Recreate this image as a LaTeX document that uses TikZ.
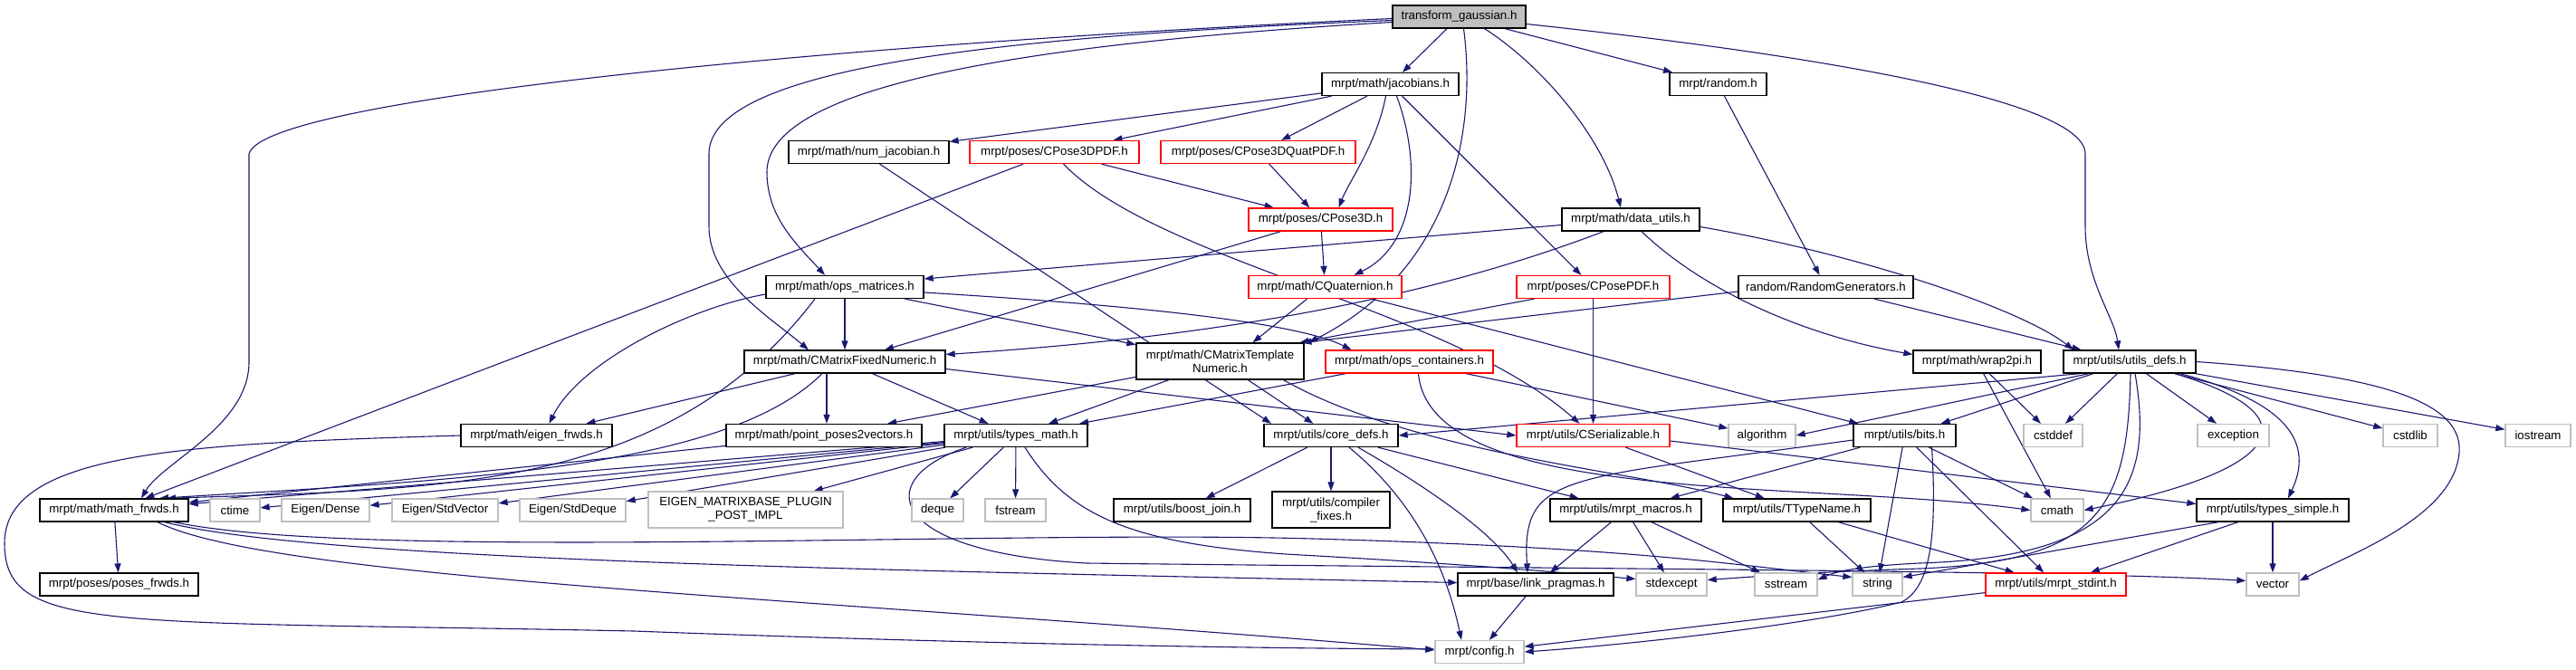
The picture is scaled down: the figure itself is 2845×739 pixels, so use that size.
\documentclass[tikz,border=0pt]{standalone}
\usepackage{fontspec}
\setmainfont{Liberation Sans}
\usetikzlibrary{arrows.meta}
\pgfdeclarelayer{background}
\pgfdeclarelayer{foreground}
\pgfsetlayers{background,main,foreground}
\definecolor{edgeblue}{HTML}{191970}
\definecolor{sysgray}{HTML}{BFBFBF}
\tikzset{hdr/.style={rectangle,draw=black,fill=white,line width=1.3pt,inner sep=0pt,
minimum height=25pt, font=\fontsize{13.3}{15}\selectfont},
redhdr/.style={hdr,draw=red},
syshdr/.style={hdr,draw=sysgray},
roothdr/.style={hdr,fill=sysgray},
inc/.style={color=edgeblue, line width=1.1pt, ->},
>={Triangle[length=10pt,width=7pt]}}

\begin{document}
\begin{tikzpicture}[x=1pt,y=-1pt]
  \useasboundingbox (0,0) rectangle (2845,739);
  \node[roothdr, minimum width=147] (tg) at (1611.5,18.5) {transform\_gaussian.h};
  \node[hdr, minimum width=151] (jac) at (1535.5,93) {mrpt/math/jacobians.h};
  \node[hdr, minimum width=107] (rnd) at (1897.5,93) {mrpt/random.h};
  \node[hdr, minimum width=177] (numjac) at (959.5,168) {mrpt/math/num\_jacobian.h};
  \node[redhdr, minimum width=187] (p3dpdf) at (1164.5,168) {mrpt/poses/CPose3DPDF.h};
  \node[redhdr, minimum width=215] (p3dq) at (1389.5,168) {mrpt/poses/CPose3DQuatPDF.h};
  \node[redhdr, minimum width=159] (p3d) at (1458.5,242.5) {mrpt/poses/CPose3D.h};
  \node[hdr, minimum width=152] (dutil) at (1801,242.5) {mrpt/math/data\_utils.h};
  \node[hdr, minimum width=174] (opsm) at (933,317) {mrpt/math/ops\_matrices.h};
  \node[redhdr, minimum width=169] (cquat) at (1463.5,317) {mrpt/math/CQuaternion.h};
  \node[redhdr, minimum width=169] (pdf) at (1759.5,317) {mrpt/poses/CPosePDF.h};
  \node[hdr, minimum width=193] (rgen) at (2016.5,317) {random/RandomGenerators.h};
  \node[hdr, minimum width=222] (cmf) at (933,399.5) {mrpt/math/CMatrixFixedNumeric.h};
  \node[hdr, minimum width=185, minimum height=40, align=center] (cmt) at (1347.5,399) {mrpt/math/CMatrixTemplate\\Numeric.h};
  \node[redhdr, minimum width=185] (opsc) at (1556.5,399.5) {mrpt/math/ops\_containers.h};
  \node[hdr, minimum width=141] (wrap) at (2183.5,399.5) {mrpt/math/wrap2pi.h};
  \node[hdr, minimum width=146] (udefs) at (2352,399.5) {mrpt/utils/utils\_defs.h};
  \node[hdr, minimum width=167] (eigf) at (592.5,481) {mrpt/math/eigen\_frwds.h};
  \node[hdr, minimum width=216] (pp2v) at (910,481) {mrpt/math/point\_poses2vectors.h};
  \node[hdr, minimum width=158] (tmath) at (1122,481) {mrpt/utils/types\_math.h};
  \node[hdr, minimum width=148] (cdefs) at (1470,481) {mrpt/utils/core\_defs.h};
  \node[redhdr, minimum width=169] (cser) at (1759.5,481) {mrpt/utils/CSerializable.h};
  \node[syshdr, minimum width=74] (algo) at (1946,481) {algorithm};
  \node[hdr, minimum width=113] (bits) at (2103.5,481) {mrpt/utils/bits.h};
  \node[syshdr, minimum width=65] (cstddef) at (2267.5,481) {cstddef};
  \node[syshdr, minimum width=79] (exception) at (2466.5,481) {exception};
  \node[syshdr, minimum width=60] (cstdlib) at (2662,481) {cstdlib};
  \node[syshdr, minimum width=72] (iostream) at (2803,481) {iostream};
  \node[hdr, minimum width=164] (mfrwds) at (126,563.5) {mrpt/math/math\_frwds.h};
  \node[syshdr, minimum width=55] (ctime) at (259.5,563.5) {ctime};
  \node[syshdr, minimum width=97] (edense) at (359.5,563.5) {Eigen/Dense};
  \node[syshdr, minimum width=117] (esv) at (491.5,563.5) {Eigen/StdVector};
  \node[syshdr, minimum width=117] (esd) at (632.5,563.5) {Eigen/StdDeque};
  \node[syshdr, minimum width=215, minimum height=40, align=center] (eplug) at (823.5,563) {EIGEN\_MATRIXBASE\_PLUGIN\\\_POST\_IMPL};
  \node[syshdr, minimum width=57] (deque) at (1035.5,563.5) {deque};
  \node[syshdr, minimum width=67] (fstream) at (1121.5,563.5) {fstream};
  \node[hdr, minimum width=151] (bjoin) at (1305.5,563.5) {mrpt/utils/boost\_join.h};
  \node[hdr, minimum width=130, minimum height=40, align=center] (cfix) at (1470,563) {mrpt/utils/compiler\\\_fixes.h};
  \node[hdr, minimum width=167] (macros) at (1795.5,563.5) {mrpt/utils/mrpt\_macros.h};
  \node[hdr, minimum width=163] (ttn) at (1984.5,563.5) {mrpt/utils/TTypeName.h};
  \node[syshdr, minimum width=58] (cmath) at (2272,563.5) {cmath};
  \node[hdr, minimum width=168] (tsimple) at (2510,563.5) {mrpt/utils/types\_simple.h};
  \node[hdr, minimum width=175] (pfrwds) at (131.5,645.5) {mrpt/poses/poses\_frwds.h};
  \node[hdr, minimum width=172] (lprag) at (1696,645.5) {mrpt/base/link\_pragmas.h};
  \node[syshdr, minimum width=78] (stdexcept) at (1846,645.5) {stdexcept};
  \node[syshdr, minimum width=69] (sstream) at (1972.5,645.5) {sstream};
  \node[syshdr, minimum width=55] (string) at (2073.5,645.5) {string};
  \node[redhdr, minimum width=155] (stdint) at (2270.5,645.5) {mrpt/utils/mrpt\_stdint.h};
  \node[syshdr, minimum width=58] (vector) at (2510,645.5) {vector};
  \node[syshdr, minimum width=98] (config) at (1634,720) {mrpt/config.h};

  \begin{pgfonlayer}{background}
  \draw[inc] (tg) -- (jac);
  \draw[inc] (tg) -- (rnd);
  \draw[inc] ([yshift=-2]tg.west) .. controls (900,50) and (290,110) .. (275,170) -- (275,400) .. controls (275,470) and (180,510) .. ([xshift=30]mfrwds.north);
  \draw[inc] ([yshift=-4]tg.west) .. controls (1100,40) and (783,75) .. (783,170) -- (783,250) .. controls (783,310) and (850,350) .. ([xshift=-40]cmf.north);
  \draw[inc] ([yshift=-6]tg.west) .. controls (1100,50) and (847,100) .. (847,190) .. controls (847,240) and (880,270) .. ([xshift=-22]opsm.north);
  \draw[inc] ([xshift=5]tg.south) .. controls (1632,150) and (1600,300) .. ([xshift=98]cmt.north);
  \draw[inc] ([xshift=28]tg.south) .. controls (1700,70) and (1770,150) .. ([xshift=-11]dutil.north);
  \draw[inc] ([yshift=-8]tg.east) .. controls (2000,60) and (2303,110) .. (2303,170) -- (2303,250) .. controls (2303,310) and (2335,350) .. ([xshift=-12]udefs.north);
  \draw[inc] (jac) -- (numjac);
  \draw[inc] (jac) -- (p3dpdf);
  \draw[inc] (jac) -- (p3dq);
  \draw[inc] ([xshift=-5]jac.south) .. controls (1520,160) and (1490,200) .. ([xshift=20]p3d.north);
  \draw[inc] ([xshift=7]jac.south) .. controls (1570,180) and (1565,270) .. ([xshift=32]cquat.north);
  \draw[inc] (jac) -- (pdf);
  \draw[inc] (rnd) -- (rgen);
  \draw[inc] (p3dpdf) -- (p3d);
  \draw[inc] (p3dpdf) -- (mfrwds);
  \draw[inc] ([xshift=10]p3dpdf.south) .. controls (1280,290) and (1600,340) .. ([xshift=-15]cser.north);
  \draw[inc] (p3dq) -- (p3d);
  \draw[inc] (p3d) -- (cquat);
  \draw[inc] (p3d) -- (cmf);
  \draw[inc] ([xshift=12]numjac.south) -- ([xshift=-66]cdefs.north);
  \draw[inc] ([yshift=-6]dutil.west) -- ([yshift=9]opsm.east);
  \draw[inc] ([xshift=-30]dutil.south) .. controls (1550,340) and (1300,375) .. ([yshift=8]cmf.east);
  \draw[inc] ([xshift=12]dutil.south) .. controls (1880,320) and (1990,370) .. ([yshift=8]wrap.west);
  \draw[inc] ([yshift=-8]dutil.east) .. controls (2050,280) and (2230,340) .. ([xshift=-62]udefs.north);
  \draw[inc] (opsm) -- (cmf);
  \draw[inc] (opsm) -- (cmt);
  \draw[inc] ([yshift=-6]opsm.east) .. controls (1300,340) and (1440,360) .. ([xshift=-64]opsc.north);
  \draw[inc] ([yshift=-8]opsm.west) .. controls (760,340) and (640,400) .. ([xshift=14]eigf.north);
  \draw[inc] ([xshift=-33]opsm.south) .. controls (740,540) and (500,540) .. ([xshift=58]mfrwds.north);
  \draw[inc] ([xshift=-20]cquat.south) -- ([xshift=36]cmt.north);
  \draw[inc] (cquat) -- (bits);
  \draw[inc] ([xshift=-65]pdf.south) -- ([xshift=88]cmt.north);
  \draw[inc] (pdf) -- (cser);
  \draw[inc] ([yshift=-5]rgen.west) -- ([xshift=91]cmt.north);
  \draw[inc] (rgen) -- (udefs);
  \draw[inc] (cmf) -- (eigf);
  \draw[inc] ([xshift=-25]cmf.south) .. controls (800,520) and (500,530) .. ([xshift=50]mfrwds.north);
  \draw[inc] ([xshift=-20]cmf.south) -- ([xshift=3]pp2v.north);
  \draw[inc] (cmf) -- (tmath);
  \draw[inc] ([yshift=-8]cmf.east) -- (cser.west);
  \draw[inc] (cmt) -- (pp2v);
  \draw[inc] (cmt) -- (tmath);
  \draw[inc] (cmt) -- (cdefs);
  \draw[inc] ([xshift=70]cmt.south) .. controls (1560,500) and (1800,520) .. ([xshift=-70]ttn.north);
  \draw[inc] (opsc) -- (tmath);
  \draw[inc] (opsc) -- (algo);
  \draw[inc] ([xshift=10]opsc.south) .. controls (1580,560) and (2000,530) .. (cmath.west);
  \draw[inc] (wrap) -- (cstddef);
  \draw[inc] (wrap) -- (cmath);
  \draw[inc] ([xshift=-55]udefs.south) -- (cdefs.east);
  \draw[inc] ([xshift=-45]udefs.south) -- (algo.east);
  \draw[inc] (udefs) -- (bits);
  \draw[inc] (udefs) -- (cstddef);
  \draw[inc] (udefs) -- (exception);
  \draw[inc] (udefs) -- (cstdlib);
  \draw[inc] (udefs) -- (iostream);
  \draw[inc] ([xshift=50]udefs.south) .. controls (2560,460) and (2520,520) .. (cmath.east);
  \draw[inc] ([xshift=56]udefs.south) .. controls (2510,440) and (2560,480) .. ([xshift=17]tsimple.north);
  \draw[inc] (udefs.east) .. controls (2650,415) and (2720,450) .. (2716,500) .. controls (2710,570) and (2600,610) .. ([yshift=4]vector.east);
  \draw[inc] ([xshift=1]udefs.south) .. controls (2350,560) and (2320,620) .. (2120,628) .. controls (2000,632) and (1950,636) .. ([yshift=5]stdexcept.east);
  \draw[inc] ([xshift=6]udefs.south) .. controls (2380,540) and (2340,615) .. (2120,622) .. controls (2060,625) and (2030,630) .. ([yshift=5]sstream.east);
  \draw[inc] (eigf.west) .. controls (200,490) and (5,500) .. (5,600) .. controls (5,700) and (120,685) .. (700,697) .. controls (1100,712) and (1400,716) .. ([yshift=3]config.west);
  \draw[inc] (pp2v) -- (mfrwds);
  \draw[inc] (tmath) -- (mfrwds);
  \draw[inc] (tmath) -- (ctime);
  \draw[inc] (tmath) -- (edense);
  \draw[inc] (tmath) -- (esv);
  \draw[inc] (tmath) -- (esd);
  \draw[inc] (tmath) -- (eplug);
  \draw[inc] (tmath) -- (deque);
  \draw[inc] (tmath) -- (fstream);
  \draw[inc] ([xshift=10]tmath.south) .. controls (1180,570) and (1250,600) .. (1420,612) .. controls (1600,622) and (1700,630) .. ([yshift=6]stdexcept.west);
  \draw[inc] ([xshift=-55]tmath.south) .. controls (960,530) and (980,610) .. (1200,622) .. controls (1700,628) and (2300,630) .. ([yshift=4]vector.west);
  \draw[inc] (mfrwds) -- (pfrwds);
  \draw[inc] ([xshift=56]mfrwds.south) .. controls (350,620) and (1000,630) .. ([yshift=2]lprag.west);
  \draw[inc] ([xshift=48]mfrwds.south) .. controls (300,640) and (900,660) .. ([yshift=2]config.west);
  \draw[inc] ([xshift=66]mfrwds.south) .. controls (400,620) and (1100,585) .. (1450,595) .. controls (1800,605) and (1900,622) .. ([yshift=8]string.west);
  \draw[inc] (cdefs) -- (bjoin);
  \draw[inc] (cdefs) -- (cfix);
  \draw[inc] (cdefs) -- (macros);
  \draw[inc] ([xshift=30]cdefs.south) .. controls (1580,540) and (1650,590) .. ([xshift=-20]lprag.north);
  \draw[inc] ([xshift=20]cdefs.south) .. controls (1570,560) and (1600,640) .. ([xshift=-20]config.north);
  \draw[inc] (cser) -- (ttn);
  \draw[inc] ([yshift=-6]cser.east) -- ([yshift=7]tsimple.west);
  \draw[inc] (bits) -- (macros);
  \draw[inc] ([yshift=-5]bits.west) .. controls (1730,530) and (1680,520) .. ([xshift=-9]lprag.north);
  \draw[inc] (bits) -- (cmath);
  \draw[inc] (bits) -- (string);
  \draw[inc] (bits) -- (stdint);
  \draw[inc] ([xshift=30]bits.south) .. controls (2140,600) and (2130,650) .. (2100,665) .. controls (2000,690) and (1800,712) .. (config.east);
  \draw[inc] (macros) -- (lprag);
  \draw[inc] (macros) -- (stdexcept);
  \draw[inc] (macros) -- (sstream);
  \draw[inc] (ttn) -- (string);
  \draw[inc] (ttn) -- (stdint);
  \draw[inc] ([xshift=-60]tsimple.south) -- ([yshift=8]string.east);
  \draw[inc] (tsimple) -- (stdint);
  \draw[inc] (tsimple) -- (vector);
  \draw[inc] (lprag) -- (config);
  \draw[inc] (stdint) -- (config);
  \end{pgfonlayer}
\end{tikzpicture}
\end{document}
